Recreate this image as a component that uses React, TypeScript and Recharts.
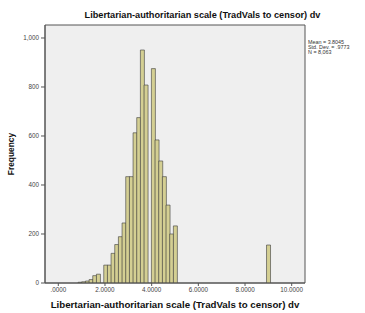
import React from 'react';
import { ComposedChart, Bar, XAxis, YAxis, CartesianGrid, ReferenceArea, Label } from 'recharts';

const binCenters = [
  0.927, 1.084, 1.241, 1.398, 1.555, 1.712, 1.869, 2.026, 2.183, 2.34, 2.497, 2.654, 2.811,
  2.968, 3.125, 3.282, 3.439, 3.596, 3.753, 3.91, 4.067, 4.224, 4.381, 4.538, 4.695, 4.852, 5.009,
  9.0,
];
const frequencies = [
  3, 5, 8, 14, 30, 36, 0, 73, 73, 121, 157, 189, 245,
  434, 434, 613, 675, 951, 808, 0, 875, 584, 498, 434, 318, 200, 233,
  155,
];
const xTicks = [0, 2, 4, 6, 8, 10];
const yTicks = [0, 200, 400, 600, 800, 1000];
const titleText = 'Libertarian-authoritarian scale (TradVals to censor) dv';
const statsLines = ['Mean = 3.8045', 'Std. Dev. = .9773', 'N = 8,063'];

const data = binCenters.map((x, i) => ({ x, freq: frequencies[i] }));

const FONT = '"Liberation Sans", Arial, sans-serif';

const fmtX = (v: number) => {
  const s = v.toFixed(4);
  return s.startsWith('0') ? s.slice(1) : s;
};
const fmtY = (v: number) => v.toLocaleString('en-US');

export default function App() {
  return (
    <div style={{ position: 'absolute', left: 0, top: 0, width: 365, height: 313, background: '#fff', fontFamily: FONT }}>
      <div
        style={{
          position: 'absolute',
          left: 0,
          top: 10,
          width: 405,
          textAlign: 'center',
          fontSize: 9.2,
          fontWeight: 'bold',
          color: '#111',
          whiteSpace: 'nowrap',
        }}
      >
        {titleText}
      </div>
      <div style={{ position: 'absolute', left: 308, top: 40, fontSize: 5.4, lineHeight: '4.8px', color: '#333', whiteSpace: 'nowrap' }}>
        {statsLines.map((l) => (
          <div key={l}>{l}</div>
        ))}
      </div>
      <ComposedChart
        width={365}
        height={313}
        data={data}
        margin={{ top: 25, right: 60, bottom: 0, left: 0 }}
        barCategoryGap={0}
        barGap={0}
      >
        <CartesianGrid horizontal={false} vertical={false} fill="#efefef" />
        <XAxis
          dataKey="x"
          type="number"
          domain={[-0.57, 10.57]}
          ticks={xTicks}
          tickFormatter={fmtX}
          height={30}
          interval={0}
          allowDataOverflow
          axisLine={{ stroke: '#555' }}
          tickLine={{ stroke: '#555' }}
          tickSize={3}
          tick={{ fontSize: 6.3, fill: '#444', fontFamily: FONT }}
        >
          <Label
            value={titleText}
            position="insideBottom"
            offset={5}
            style={{ fontSize: 9.7, fontWeight: 'bold', fill: '#111', fontFamily: FONT }}
          />
        </XAxis>
        <YAxis
          type="number"
          domain={[0, 1053]}
          ticks={yTicks}
          tickFormatter={fmtY}
          width={45}
          interval={0}
          allowDataOverflow
          axisLine={{ stroke: '#555' }}
          tickLine={{ stroke: '#555' }}
          tickSize={4}
          tickMargin={2}
          tick={{ fontSize: 6.3, fill: '#444', fontFamily: FONT }}
        >
          <Label
            value="Frequency"
            angle={-90}
            position="insideLeft"
            offset={11}
            style={{ fontSize: 8.4, fontWeight: 'bold', fill: '#111', fontFamily: FONT, textAnchor: 'middle' }}
          />
        </YAxis>
        <ReferenceArea x1={-0.57} x2={10.57} y1={0} y2={1053} fill="none" stroke="#555" strokeWidth={1} ifOverflow="extendDomain" />
        <Bar dataKey="freq" fill="#d4cf93" stroke="#3a3a3a" strokeWidth={0.6} isAnimationActive={false} />
      </ComposedChart>
    </div>
  );
}
